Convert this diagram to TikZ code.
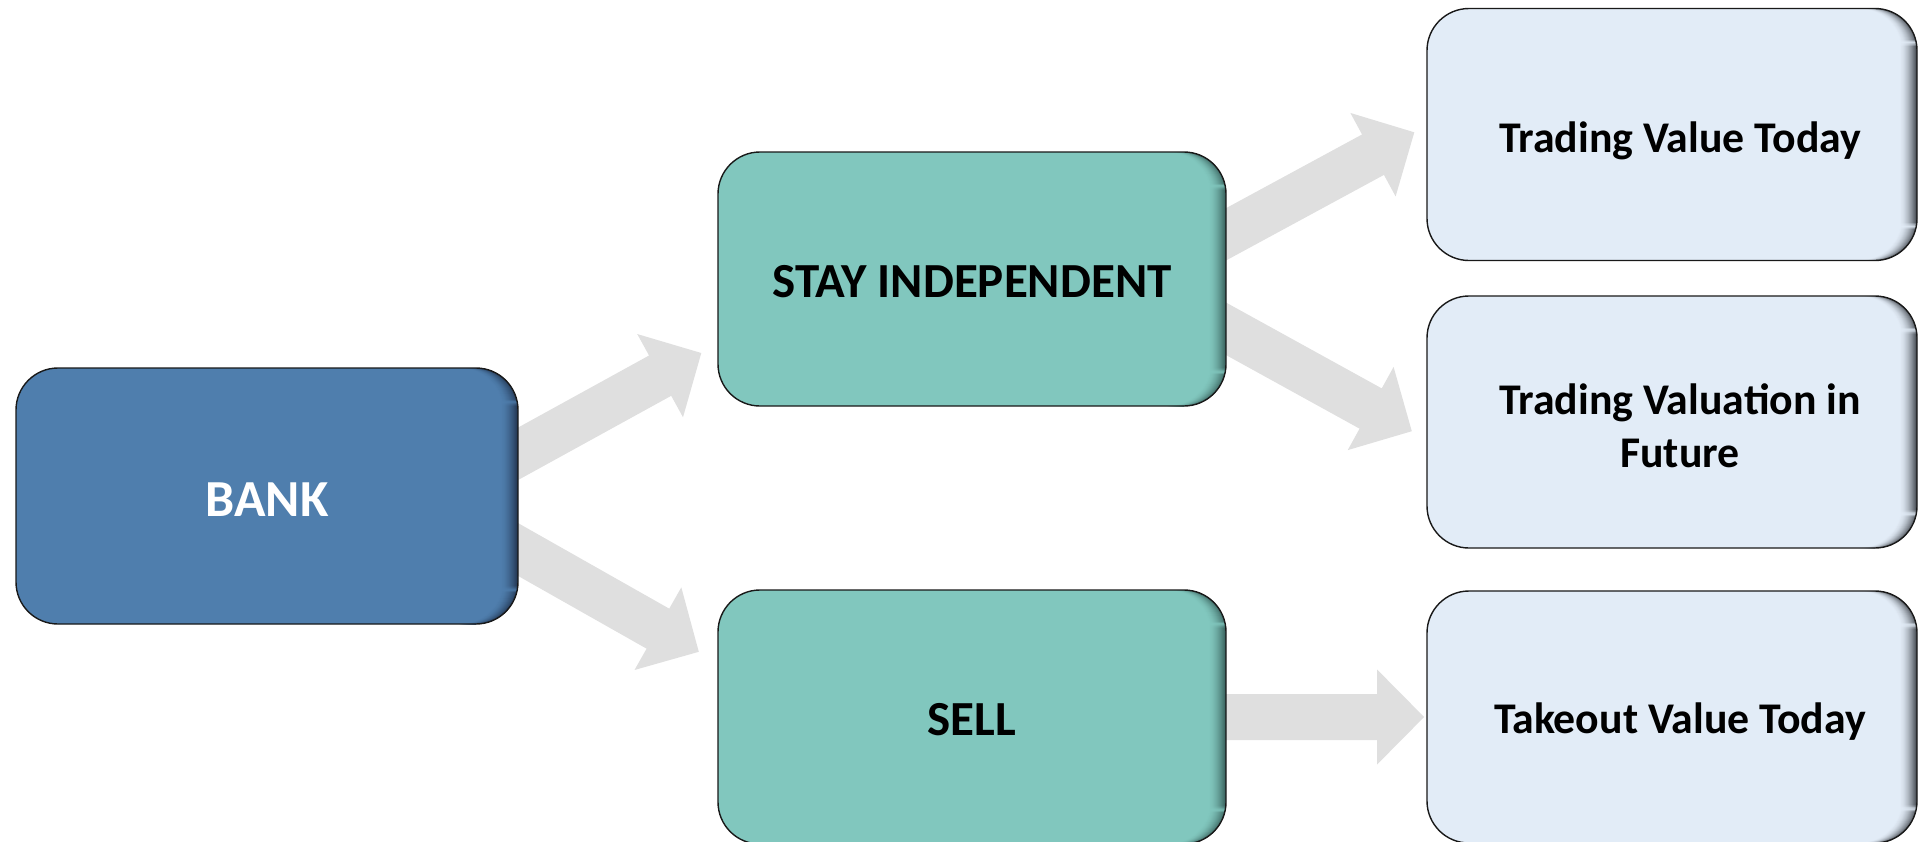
\documentclass[tikz,border=0pt]{standalone}
\usepackage{fontspec}
\setmainfont{Carlito}
\usetikzlibrary{calc}
\definecolor{bankblue}{HTML}{4F7EAD}
\definecolor{bankdark}{HTML}{223652}
\definecolor{tealfill}{HTML}{81C7BE}
\definecolor{tealdark}{HTML}{3A635E}
\definecolor{lightfill}{HTML}{E2ECF7}
\definecolor{lightdark}{HTML}{474C53}
\definecolor{arrowgray}{HTML}{DFDFDF}
\pgfdeclarelayer{bg}
\pgfsetlayers{bg,main}
\tikzset{
  % rounded box with an inner shadow fading in along its right edge
  box/.style 2 args={draw=black!90, line width=0.7pt, rounded corners=21pt,
    inner sep=0pt, align=center, fill=#1,
    path picture={
      \foreach \i in {0,...,17}{
        \pgfmathtruncatemacro\pc{100*((\i+1)/18)^1.8}
        \fill[#2!\pc!#1]
          ([xshift={-9pt+\i*0.5pt}]path picture bounding box.north east)
          rectangle ([xshift={-8.2pt+\i*0.5pt}]path picture bounding box.south east);
      }}},
  bankbox/.style={box={bankblue}{bankdark}, minimum width=251pt, minimum height=128pt,
    text=white, text height=20.7pt, text depth=0pt,
    font=\fontsize{26pt}{31pt}\selectfont\bfseries},
  choicebox/.style={box={tealfill}{tealdark}, minimum width=254pt, minimum height=127pt,
    text height=18.5pt, text depth=0pt,
    font=\fontsize{24.5pt}{29pt}\selectfont\bfseries},
  valuebox/.style={box={lightfill}{lightdark}, minimum width=245pt, minimum height=126pt,
    font=\fontsize{21.9pt}{26.5pt}\selectfont\bfseries},
  arrowfill/.style={fill=arrowgray},
}
% text in the value boxes sits a little right of centre
\newcommand\vpad{\hspace*{8pt}}
% block arrow from #1 to tip #2
\newcommand\blockarrow[2]{%
  \coordinate (hb) at ($(#2)!23.5pt!(#1)$);
  \fill[arrowfill] ($(#1)!11.5pt!90:(#2)$) -- ($(hb)!11.5pt!90:(#2)$)
    -- ($(hb)!23.75pt!90:(#2)$) -- (#2) -- ($(hb)!23.75pt!-90:(#2)$)
    -- ($(hb)!11.5pt!-90:(#2)$) -- ($(#1)!11.5pt!-90:(#2)$) -- cycle;}
\begin{document}
\begin{tikzpicture}[x=0.5pt, y=-0.5pt]
  \useasboundingbox (0,0) rectangle (1921,841);

  % boxes
  \node[bankbox]   (bank) at (267,496)   {BANK};
  \node[choicebox] (stay) at (972,279)   {STAY INDEPENDENT};
  \node[choicebox] (sell) at (972,717)   {SELL};
  \node[valuebox, text height=18.2pt, text depth=0pt] (tvt) at (1672,134.5)
    {\vpad Trading Value Today};
  \node[valuebox]  (tvf)  at (1672,422)
    {\vpad\rule{0pt}{19.5pt}Trading Valuation in\\\vpad Future};
  \node[valuebox, text height=16.8pt, text depth=0pt] (tov) at (1672,717)
    {\vpad Takeout Value Today};

  % arrow end points
  \coordinate (a1) at ($(bank.east)+(-13,-35.4)$);
  \coordinate (b1) at ($(stay.west)+(-16,74)$);
  \coordinate (a2) at ($(bank.east)+(-13,46.5)$);
  \coordinate (b2) at ($(sell.west)+(-18.5,-65.2)$);
  \coordinate (a3) at ($(stay.east)+(-13,-38)$);
  \coordinate (b3) at ($(tvt.west)+(-12,-2.2)$);
  \coordinate (a4) at ($(stay.east)+(-13,43)$);
  \coordinate (b4) at ($(tvf.west)+(-14.5,9.2)$);
  \coordinate (a5) at ($(sell.east)+(-11,0)$);
  \coordinate (b5) at ($(tov.west)+(-2.2,0)$);

  \begin{pgfonlayer}{bg}
    \blockarrow{a1}{b1}
    \blockarrow{a2}{b2}
    \blockarrow{a3}{b3}
    \blockarrow{a4}{b4}
    \blockarrow{a5}{b5}
  \end{pgfonlayer}
\end{tikzpicture}
\end{document}
